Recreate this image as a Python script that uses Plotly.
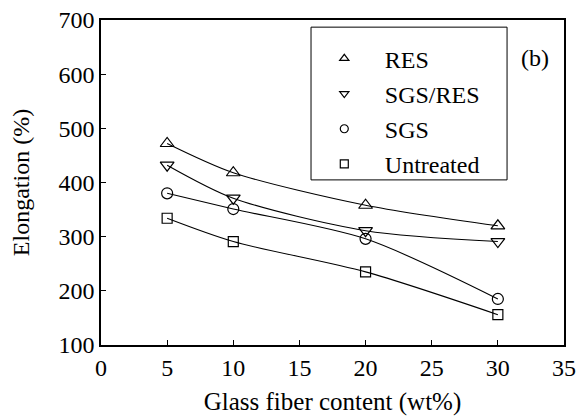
import plotly.graph_objects as go

x_content = [5, 10, 20, 30]
res = [472, 418, 358, 320]
sgs_res = [432, 371, 311, 291]
sgs = [380, 351, 296, 185]
untreated = [334, 291, 235, 156]

series_names = ["RES", "SGS/RES", "SGS", "Untreated"]
series_vals = [res, sgs_res, sgs, untreated]
symbols = ["triangle-up-open", "triangle-down-open", "circle-open", "square-open"]
marker_sizes = [12, 12, 11, 10]

x_ticks = [0, 5, 10, 15, 20, 25, 30, 35]
y_ticks = [100, 200, 300, 400, 500, 600, 700]

FONT = "Liberation Serif"

fig = go.Figure()
for name, vals, sym, ms in zip(series_names, series_vals, symbols, marker_sizes):
    fig.add_trace(go.Scatter(
        x=x_content, y=vals, mode="lines+markers", name=name,
        line=dict(color="black", width=1.1, shape="spline", smoothing=0.8),
        marker=dict(symbol=sym, size=ms, color="black", line=dict(width=1.2, color="black")),
        showlegend=False,
    ))
for name, sym in zip(series_names, symbols):
    fig.add_trace(go.Scatter(
        x=[None], y=[None], mode="markers", name=name, legendgroup=name,
        marker=dict(symbol=sym, size=8, color="black", line=dict(width=1.2, color="black")),
        showlegend=True,
    ))

axis_common = dict(
    showline=True, linecolor="black", linewidth=1.6, mirror=True,
    ticks="inside", ticklen=5, tickcolor="black", tickwidth=1,
    showgrid=False, zeroline=False, automargin=False,
    tickfont=dict(family=FONT, size=24, color="black"),
)

fig.update_xaxes(range=[0, 35], tickvals=x_ticks,
                 title=dict(text="Glass fiber content (wt%)", font=dict(family=FONT, size=25, color="black"), standoff=14),
                 **axis_common)
fig.update_yaxes(range=[100, 700], tickvals=y_ticks,
                 title=dict(text="Elongation (%)", font=dict(family=FONT, size=24, color="black"), standoff=22),
                 **axis_common)

fig.add_shape(type="rect", xref="paper", yref="paper",
              x0=0.4536, x1=0.877, y0=0.508, y1=0.978,
              line=dict(color="black", width=1))

fig.add_annotation(text="(b)", xref="paper", yref="paper", x=0.937, y=0.883,
                   xanchor="center", yanchor="middle",
                   showarrow=False, font=dict(family=FONT, size=24, color="black"))

fig.update_layout(
    width=587, height=416,
    margin=dict(l=101, r=23, t=20, b=71, autoexpand=False),
    paper_bgcolor="white", plot_bgcolor="white",
    legend=dict(x=0.438, y=0.95, xanchor="left", yanchor="top",
                font=dict(family=FONT, size=24, color="black"),
                bgcolor="rgba(0,0,0,0)", borderwidth=0, tracegroupgap=1,
                itemwidth=71),
)

fig.write_html("out.html")
